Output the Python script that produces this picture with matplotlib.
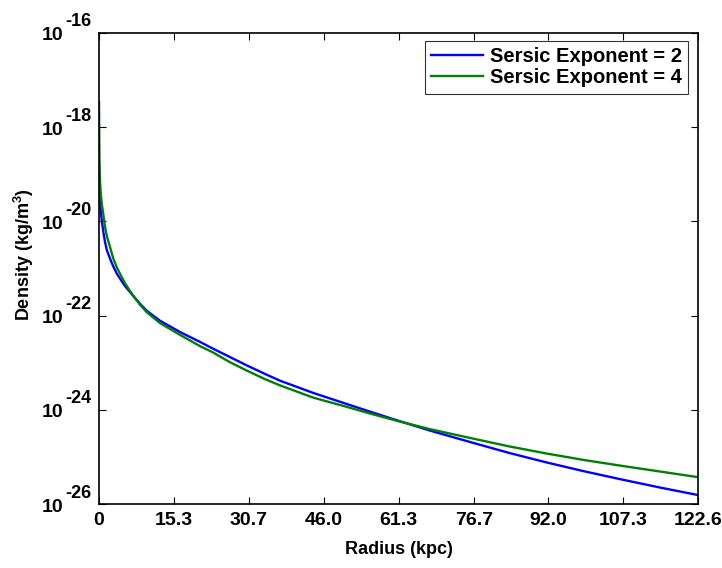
import matplotlib

matplotlib.use("Agg")
import matplotlib.pyplot as plt
from matplotlib.ticker import FixedLocator, NullLocator
from matplotlib.transforms import offset_copy

plt.rcParams["font.family"] = "Liberation Sans"
plt.rcParams["font.weight"] = "bold"
plt.rcParams["mathtext.fontset"] = "custom"
plt.rcParams["mathtext.rm"] = "Liberation Sans:bold"
plt.rcParams["mathtext.bf"] = "Liberation Sans:bold"
plt.rcParams["mathtext.default"] = "bf"

# radius (kpc) and log10 density (kg/m^3)
radius_n2 = [0.0, 0.2, 0.4, 0.6, 0.9, 1.2, 1.6, 2.3, 2.9, 3.7, 5.3, 7.0, 8.4, 9.8,
             12.5, 16.6, 20.7, 23.3, 26.8, 30.3, 34.0, 37.0, 43.8, 50.8, 55.5,
             61.2, 67.7, 76.5, 84.1, 91.7, 99.5, 107.0, 114.8, 122.6]
log_density_n2 = [-18.76, -19.55, -19.82, -20.01, -20.23, -20.42, -20.61, -20.80,
                  -20.95, -21.12, -21.37, -21.58, -21.75, -21.90, -22.11, -22.35,
                  -22.56, -22.70, -22.88, -23.06, -23.24, -23.38, -23.64, -23.88,
                  -24.04, -24.23, -24.44, -24.70, -24.92, -25.12, -25.31, -25.48,
                  -25.65, -25.81]

radius_n4 = [0.0, 0.1, 0.2, 0.4, 0.6, 0.9, 1.2, 1.6, 2.3, 2.9, 3.7, 5.3, 7.0, 8.4,
             9.8, 12.5, 16.6, 20.7, 23.3, 26.8, 30.3, 34.0, 37.0, 43.8, 50.8,
             55.5, 61.2, 67.7, 76.5, 84.1, 91.7, 99.5, 107.0, 114.8, 122.6]
log_density_n4 = [-17.46, -18.80, -19.12, -19.46, -19.65, -19.86, -20.10, -20.31,
                  -20.56, -20.78, -20.99, -21.31, -21.58, -21.77, -21.93, -22.16,
                  -22.41, -22.65, -22.78, -22.99, -23.17, -23.35, -23.48, -23.74,
                  -23.94, -24.08, -24.24, -24.41, -24.61, -24.78, -24.93, -25.07,
                  -25.19, -25.31, -25.43]

x_ticks = [0, 15.3, 30.7, 46.0, 61.3, 76.7, 92.0, 107.3, 122.6]
x_tick_labels = ["0", "15.3", "30.7", "46.0", "61.3", "76.7", "92.0", "107.3", "122.6"]
y_exponents = [-26, -24, -22, -20, -18, -16]

fig = plt.figure(figsize=(7.22, 5.68), dpi=100)
ax = fig.add_axes([99 / 722, 64 / 568, 599 / 722, 471 / 568])

ax.plot(radius_n2, [10.0 ** v for v in log_density_n2], color=(0, 0, 1),
        linewidth=1.7, label="Sersic Exponent = 2")
ax.plot(radius_n4, [10.0 ** v for v in log_density_n4], color=(0, 0.5, 0),
        linewidth=1.7, label="Sersic Exponent = 4")

ax.set_yscale("log")
ax.set_xlim(0, 122.6)
ax.set_ylim(1e-26, 1e-16)

ax.xaxis.set_major_locator(FixedLocator(x_ticks))
ax.set_xticklabels(x_tick_labels)
ax.yaxis.set_major_locator(FixedLocator([10.0 ** e for e in y_exponents]))
ax.yaxis.set_minor_locator(NullLocator())
ax.set_yticklabels([""] * len(y_exponents))

ax.tick_params(direction="in", top=True, right=True, length=5, width=0.8,
               labelsize=14, pad=6)
for side in ax.spines.values():
    side.set_linewidth(1.2)

# MATLAB-style 10^n labels with a full-size exponent
base_tr = offset_copy(ax.get_yaxis_transform(), fig=fig, x=0, y=-3, units="dots")
sup_tr = offset_copy(ax.get_yaxis_transform(), fig=fig, x=0, y=11, units="dots")
for e in y_exponents:
    ax.text(-0.059, 10.0 ** e, "10", transform=base_tr, ha="right", va="center",
            fontsize=14, fontweight="bold", clip_on=False)
    ax.text(-0.056, 10.0 ** e, "%d" % e, transform=sup_tr, ha="left", va="center",
            fontsize=13, fontweight="bold", clip_on=False)

ax.set_xlabel("Radius (kpc)", fontsize=13, fontweight="bold")
ax.xaxis.set_label_coords(0.5, -0.078)
ax.xaxis.label.set_va("top")
ax.set_ylabel(r"Density (kg/m$^{\mathbf{3}}$)", fontsize=13, fontweight="bold")
ax.yaxis.set_label_coords(-0.105, 0.53)

leg = ax.legend(loc="upper right", bbox_to_anchor=(0.9833, 0.983), borderaxespad=0,
                fontsize=14.5, frameon=True, fancybox=False, handlelength=2.6,
                handletextpad=0.35, borderpad=0.3, labelspacing=0.12)
leg.get_frame().set_edgecolor("black")
leg.get_frame().set_linewidth(0.8)
for t in leg.get_texts():
    t.set_fontweight("bold")

fig.savefig("out.png", dpi=100)
